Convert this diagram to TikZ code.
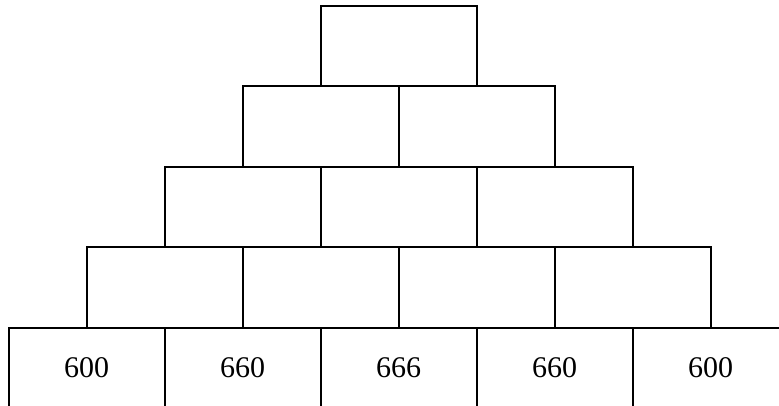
\documentclass[tikz,border=0pt]{standalone}
\usepackage{fontspec}
\setmainfont{Liberation Serif}
\begin{document}
\begin{tikzpicture}[x=1pt,y=-1pt,
  brick/.style={draw=black,line width=2pt,minimum width=156pt,minimum height=80.5pt,inner sep=0pt,outer sep=0pt,anchor=north west,font=\fontsize{30}{36}\selectfont}]
\useasboundingbox (0,0) rectangle (779,406);
\clip (0,0) rectangle (779,406);
% row 5 (bottom)
\node[brick] (e1) at (8.5,327.7) {600};
\node[brick] (e2) at (164.5,327.7) {660};
\node[brick] (e3) at (320.5,327.7) {666};
\node[brick] (e4) at (476.5,327.7) {660};
\node[brick] (e5) at (632.5,327.7) {600};
% row 4
\node[brick] (d1) at (86.5,247.2) {};
\node[brick] (d2) at (242.5,247.2) {};
\node[brick] (d3) at (398.5,247.2) {};
\node[brick] (d4) at (554.5,247.2) {};
% row 3
\node[brick] (c1) at (164.5,166.7) {};
\node[brick] (c2) at (320.5,166.7) {};
\node[brick] (c3) at (476.5,166.7) {};
% row 2
\node[brick] (b1) at (242.5,86.2) {};
\node[brick] (b2) at (398.5,86.2) {};
% row 1
\node[brick] (a1) at (320.5,5.7) {};
\end{tikzpicture}
\end{document}
